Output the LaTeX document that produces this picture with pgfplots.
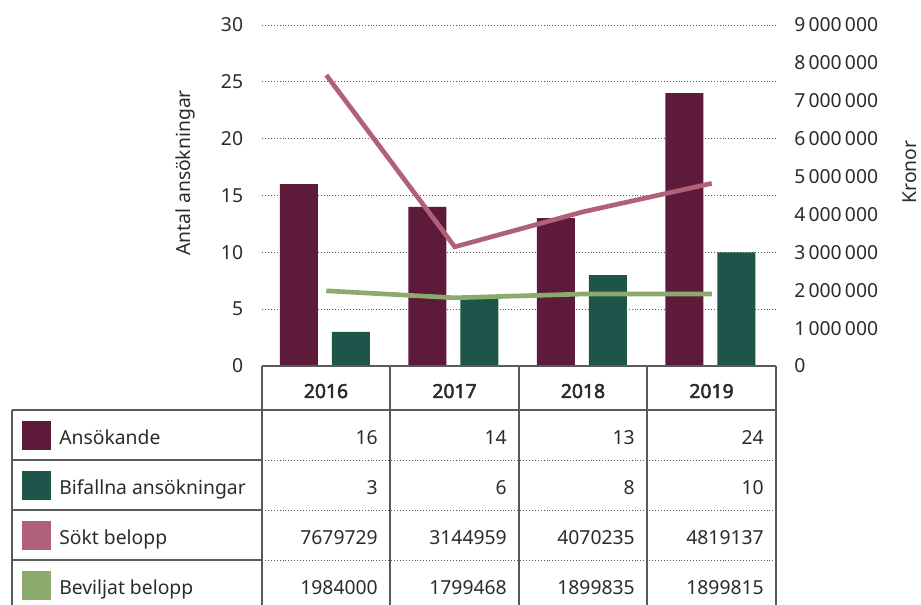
\documentclass[border=0pt]{standalone}
\usepackage{fontspec}
\setmainfont{Noto Sans}
\newfontfamily\hdr{Noto Sans}[FakeBold=2.5]
\usepackage{pgfplots}
\pgfplotsset{compat=1.18}
\definecolor{ans}{HTML}{5E1A3A}
\definecolor{bif}{HTML}{1D554A}
\definecolor{sok}{HTML}{B1607A}
\definecolor{bev}{HTML}{8BAA6B}
\definecolor{txt}{HTML}{2B2B2B}
\definecolor{rule}{HTML}{5A5A5A}
\begin{document}
\fontsize{14.5pt}{17pt}\selectfont
\begin{tikzpicture}
\path[use as bounding box] (0,0) rectangle (690.75pt,453.75pt);
\begin{axis}[
 at={(196.5pt,179.25pt)}, anchor=south west,
 scale only axis, width=385.5pt, height=255.75pt,
 xmin=-0.5, xmax=3.5, ymin=0, ymax=30,
 xtick=\empty, ytick={0,5,10,15,20,25,30},
 axis line style={draw=none},
 major tick length=0pt,
 ymajorgrids, grid style={rule, line width=0.6pt, dash pattern=on 0.6pt off 1.6pt},
 yticklabel style={text=txt, inner sep=0pt, xshift=-14pt},
 /pgf/number format/assume math mode=true,
 clip=false,
]
\addplot[ybar, bar width=28.5pt, bar shift=-20.6pt, fill=ans, draw=none] coordinates {(0,16) (1,14) (2,13) (3,24)};
\addplot[ybar, bar width=28.5pt, bar shift=18.4pt, fill=bif, draw=none] coordinates {(0,3) (1,6) (2,8) (3,10)};
\end{axis}
\begin{axis}[
 at={(196.5pt,179.25pt)}, anchor=south west,
 scale only axis, width=385.5pt, height=255.75pt,
 xmin=-0.5, xmax=3.5, ymin=0, ymax=9000000,
 hide x axis,
 axis y line*=right,
 axis line style={draw=none},
 major tick length=0pt,
 ytick={0,1000000,2000000,3000000,4000000,5000000,6000000,7000000,8000000,9000000},
 scaled y ticks=false,
 yticklabel style={text=txt, inner sep=0pt, xshift=13.5pt, /pgf/number format/.cd, fixed, precision=0, 1000 sep={\,}},
 /pgf/number format/assume math mode=true,
 clip=false,
]
\addplot[sok, line width=3.5pt, line cap=butt, line join=miter] coordinates {(0,7679729) (1,3144959) (2,4070235) (3,4819137)};
\addplot[bev, line width=3.5pt, line cap=butt, line join=round] coordinates {(0,1984000) (1,1799468) (2,1899835) (3,1899815)};
\end{axis}
\begin{scope}[x=0.75pt,y=-0.75pt,yshift=453.75pt]
\node[rotate=90, text=txt, inner sep=0pt] at (185,173) {Antal ansökningar};
\node[rotate=90, text=txt, inner sep=0pt] at (910,172) {Kronor};
% table grid
\begin{scope}[rule, line width=0.9pt]
\draw (262,366) -- (776,366);
\draw (12,410) -- (776,410);
\foreach \x in {262,390,519,647,776} \draw (\x,366) -- (\x,606);
\draw (12,410) -- (12,606);
\foreach \y in {460,510,560} {
  \draw (12,\y) -- (262,\y);
  \draw[line width=0.6pt, dash pattern=on 0.6pt off 1.6pt] (262,\y) -- (776,\y);
}
\end{scope}
% header
\foreach \x/\yr in {326/2016,454.5/2017,583/2018,711.5/2019}
  \node[anchor=base, text=txt, font=\hdr, inner sep=0pt] at (\x,398) {\yr};
% legend squares and names
\fill[ans] (22,421) rectangle (51,450);
\fill[bif] (22,471) rectangle (51,500);
\fill[sok] (22,521) rectangle (51,550);
\fill[bev] (22,571) rectangle (51,600);
\node[anchor=base west, text=txt, inner sep=0pt] at (59,445) {Ansökande};
\node[anchor=base west, text=txt, inner sep=0pt] at (59,495) {Bifallna ansökningar};
\node[anchor=base west, text=txt, inner sep=0pt] at (59,545) {Sökt belopp};
\node[anchor=base west, text=txt, inner sep=0pt] at (59,595) {Beviljat belopp};
% values
\foreach \x/\a/\b/\c/\d in {378/16/3/7679729/1984000, 507/14/6/3144959/1799468, 635/13/8/4070235/1899835, 764/24/10/4819137/1899815} {
  \node[anchor=base east, text=txt, inner sep=0pt] at (\x,445) {\a};
  \node[anchor=base east, text=txt, inner sep=0pt] at (\x,495) {\b};
  \node[anchor=base east, text=txt, inner sep=0pt] at (\x,545) {\c};
  \node[anchor=base east, text=txt, inner sep=0pt] at (\x,595) {\d};
}
\end{scope}
\end{tikzpicture}
\end{document}
